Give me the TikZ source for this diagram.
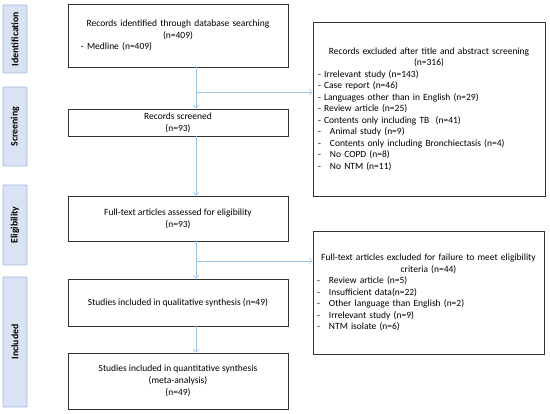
\documentclass[tikz,border=0pt]{standalone}
\usepackage{fontspec}
\setmainfont{Carlito}
\usetikzlibrary{arrows.meta}
\definecolor{arrc}{RGB}{157,195,230}
\definecolor{sidefill}{RGB}{218,227,243}
\definecolor{sidedraw}{RGB}{160,185,225}
\definecolor{boxdraw}{RGB}{50,50,50}
\tikzset{
  mainbox/.style={draw=boxdraw, line width=0.8pt, rectangle, inner sep=0pt, minimum width=220pt, align=center, font=\fontsize{9.5}{11.8}\selectfont},
  exclbox/.style={draw=boxdraw, line width=0.8pt, rectangle, inner sep=0pt, font=\fontsize{9.5}{11.5}\selectfont},
  sidebox/.style={draw=sidedraw, fill=sidefill, line width=0.8pt, rounded corners=1pt, rotate=90, minimum height=24pt, inner sep=0pt, font=\bfseries\fontsize{9.8}{10}\selectfont},
  arr/.style={draw=arrc, line width=0.6pt, -{Straight Barb[length=3pt,width=6pt]}},
  seg/.style={draw=arrc, line width=0.6pt}
}
\newcommand{\itm}[1]{\makebox[12pt][l]{-}#1}
\begin{document}
\begin{tikzpicture}[x=1pt,y=-1pt]
\useasboundingbox (0,0) rectangle (550,414);
% side labels
\node[sidebox, minimum width=68pt] (sid) at (15,39) {Identification};
\node[sidebox, minimum width=79pt] (ssc) at (15,126.5) {Screening};
\node[sidebox, minimum width=80pt] (sel) at (15,225) {Eligibility};
\node[sidebox, minimum width=130pt] (sin) at (15,342) {Included};
% main boxes
\node[mainbox, minimum height=63pt, text width=194pt, align=left] (box1) at (178,35.5)
 {{\centering Records identified through database searching\\(n=409)\par}\raggedright - Medline (n=409)};
\node[mainbox, minimum height=27pt] (scr) at (178,122.5) {Records screened\\(n=93)};
\node[mainbox, minimum height=45pt] (ft) at (178,218.5) {Full-text articles assessed for eligibility\\(n=93)};
\node[mainbox, minimum height=47pt] (qual) at (178,302.5) {Studies included in qualitative synthesis (n=49)};
\node[mainbox, minimum height=56pt] (quant) at (178,381) {Studies included in quantitative synthesis\\(meta-analysis)\\(n=49)};
% exclusion boxes
\node[exclbox, minimum width=232pt, minimum height=174pt, text width=222pt, align=left] (ex1) at (429,109)
 {{\centering Records excluded after title and abstract screening\\(n=316)\par}\raggedright
 - Irrelevant study (n=143)\\
 - Case report (n=46)\\
 - Languages other than in English (n=29)\\
 - Review article (n=25)\\
 - Contents only including TB~~(n=41)\\
 \itm{Animal study (n=9)}\\
 \itm{Contents only including Bronchiectasis (n=4)}\\
 \itm{No COPD (n=8)}\\
 \itm{No NTM (n=11)}};
\node[exclbox, minimum width=231pt, minimum height=123pt, text width=223pt, align=left] (ex2) at (428.5,292.5)
 {{\centering Full-text articles excluded for failure to meet eligibility\\criteria (n=44)\par}\raggedright
 \itm{Review article (n=5)}\\
 \itm{Insufficient data(n=22)}\\
 \itm{Other language than English (n=2)}\\
 \itm{Irrelevant study (n=9)}\\
 \itm{NTM isolate (n=6)}};
% connectors
\coordinate (xa) at (196,0);
\coordinate (br1) at (196,92);
\coordinate (br2) at (196,261);
\draw[arr] (box1.south -| xa) -- (scr.north -| xa);
\draw[arr] (br1) -- (ex1.west |- br1);
\draw[arr] (scr.south -| xa) -- (ft.north -| xa);
\draw[arr] (ft.south -| xa) -- (qual.north -| xa);
\draw[arr] (br2) -- (ex2.west |- br2);
\draw[arr] (qual.south -| xa) -- (quant.north -| xa);
\end{tikzpicture}
\end{document}
